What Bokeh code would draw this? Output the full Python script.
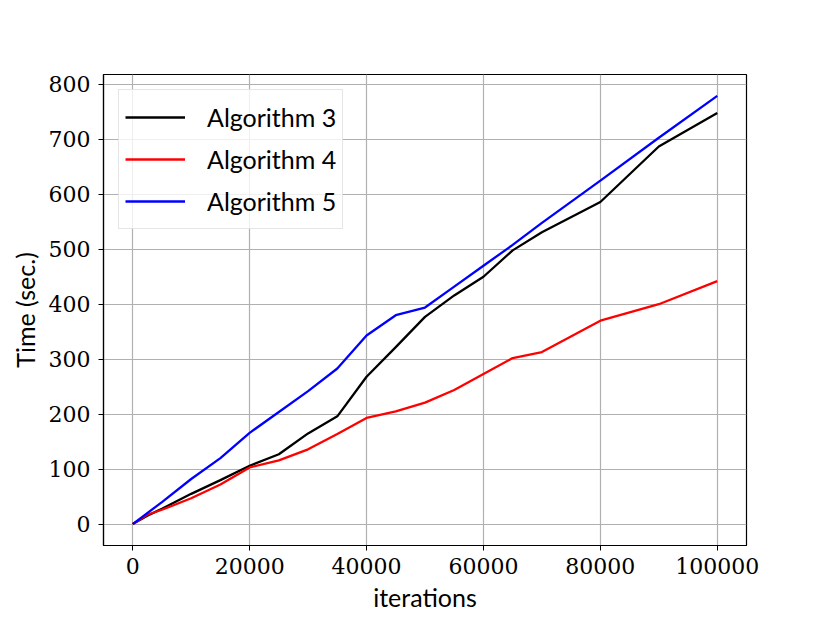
from bokeh.plotting import figure
from bokeh.models import FixedTicker, NumeralTickFormatter, Range1d, Legend, LegendItem
from bokeh.embed import file_html
from bokeh.resources import INLINE

# Data
iters_3 = [0, 2500, 5000, 10000, 15000, 20000, 25000, 30000, 35000, 40000, 45000, 50000,
           55000, 60000, 65000, 70000, 80000, 90000, 100000]
alg3 = [0, 15, 28, 55, 80, 106, 127, 165, 196, 268, 322, 377,
        416, 450, 498, 531, 586, 687, 748]

iters_4 = [0, 2500, 5000, 10000, 15000, 20000, 25000, 30000, 35000, 40000, 45000, 50000,
           55000, 60000, 65000, 70000, 80000, 90000, 100000]
alg4 = [0, 17, 26, 47, 72, 103, 116, 136, 164, 193, 205, 221,
        244, 273, 302, 313, 370, 400, 442]

iters_5 = [0, 5000, 10000, 15000, 20000, 25000, 30000, 35000, 40000, 45000, 50000,
           55000, 60000, 65000, 70000, 80000, 90000, 100000]
alg5 = [0, 40, 82, 120, 166, 204, 242, 283, 343, 380, 394,
        432, 470, 508, 548, 625, 703, 779]

x_ticks = [0, 20000, 40000, 60000, 80000, 100000]
y_ticks = [0, 100, 200, 300, 400, 500, 600, 700, 800]

SERIF = "DejaVu Serif"
SANS = "Lato"

p = figure(width=822, height=615, output_backend="svg", toolbar_location=None,
           x_range=Range1d(-5000, 105000), y_range=Range1d(-39, 818),
           min_border_left=103, min_border_right=76, min_border_top=74, min_border_bottom=70)

p.background_fill_color = "white"
p.border_fill_color = "white"
p.outline_line_color = "black"
p.outline_line_width = 1.2

r3 = p.line(iters_3, alg3, line_color="black", line_width=2.3)
r4 = p.line(iters_4, alg4, line_color="red", line_width=2.3)
r5 = p.line(iters_5, alg5, line_color="blue", line_width=2.3)

for ax in (p.xaxis[0], p.yaxis[0]):
    ax.major_label_text_font = SERIF
    ax.major_label_text_font_size = "22px"
    ax.major_label_text_color = "black"
    ax.axis_label_text_font = SANS
    ax.axis_label_text_font_size = "25px"
    ax.axis_label_text_font_style = "normal"
    ax.axis_label_text_color = "black"
    ax.axis_line_color = "black"
    ax.axis_line_width = 1.2
    ax.major_tick_line_color = "black"
    ax.major_tick_in = 0
    ax.major_tick_out = 5
    ax.minor_tick_line_color = None
    ax.formatter = NumeralTickFormatter(format="0")

p.xaxis[0].ticker = FixedTicker(ticks=x_ticks)
p.yaxis[0].ticker = FixedTicker(ticks=y_ticks)
p.xaxis[0].axis_label = "iterations"
p.yaxis[0].axis_label = "Time (sec.)"
p.xaxis[0].major_label_standoff = 7
p.yaxis[0].major_label_standoff = 8
p.xaxis[0].axis_label_standoff = 5
p.yaxis[0].axis_label_standoff = 6

p.xgrid[0].ticker = FixedTicker(ticks=x_ticks)
p.ygrid[0].ticker = FixedTicker(ticks=y_ticks)
p.grid.grid_line_color = "#b0b0b0"
p.grid.grid_line_width = 1.2

legend = Legend(items=[LegendItem(label="Algorithm 3", renderers=[r3]),
                       LegendItem(label="Algorithm 4", renderers=[r4]),
                       LegendItem(label="Algorithm 5", renderers=[r5])],
                location="top_left")
legend.label_text_font = SANS
legend.label_text_font_size = "25px"
legend.label_text_color = "black"
legend.glyph_width = 60
legend.glyph_height = 42
legend.label_height = 42
legend.label_standoff = 22
legend.spacing = 0
legend.padding = 6
legend.margin = 15
legend.border_line_color = "#cccccc"
legend.border_line_width = 1
legend.background_fill_color = "white"
legend.background_fill_alpha = 0.8
p.add_layout(legend)

open("out.html", "w").write(file_html(p, INLINE))
